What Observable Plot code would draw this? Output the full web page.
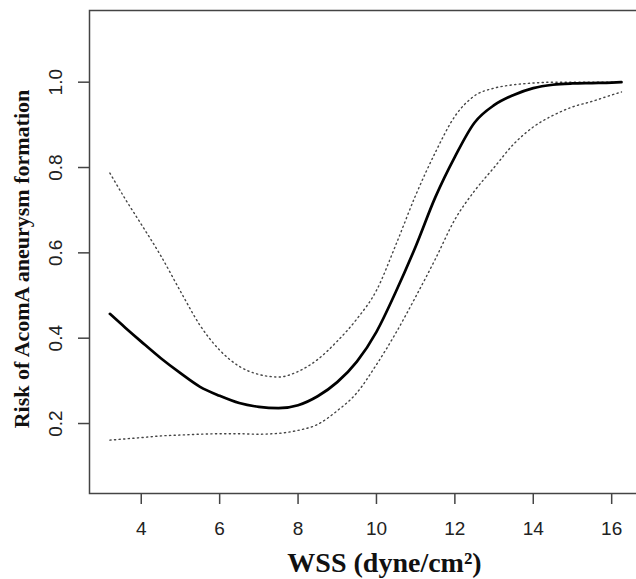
<!DOCTYPE html>
<html>
<head>
<meta charset="utf-8">
<script src="https://cdn.jsdelivr.net/npm/d3@7"></script>
<script src="https://cdn.jsdelivr.net/npm/@observablehq/plot@0.6"></script>
<style>
  html, body { margin: 0; padding: 0; background: #fff; overflow: hidden; width: 636px; height: 579px; }
  #chart { width: 700px; }
</style>
</head>
<body>
<div id="chart"></div>
<script>
const wss   = [3.2, 3.6, 4.0, 4.5, 5.0, 5.5, 6.0, 6.5, 7.0, 7.5, 8.0, 8.5, 9.0, 9.5, 10.0, 10.5, 11.0, 11.5, 12.0, 12.5, 13.0, 13.5, 14.0, 14.5, 15.0, 15.5, 16.0, 16.25];
const risk  = [0.457, 0.424, 0.392, 0.353, 0.318, 0.286, 0.265, 0.248, 0.239, 0.236, 0.243, 0.264, 0.297, 0.345, 0.415, 0.510, 0.615, 0.730, 0.825, 0.905, 0.946, 0.970, 0.986, 0.994, 0.997, 0.998, 0.999, 1.000];
const upper = [0.787, 0.725, 0.667, 0.593, 0.510, 0.430, 0.372, 0.334, 0.315, 0.309, 0.322, 0.350, 0.393, 0.445, 0.512, 0.620, 0.735, 0.835, 0.920, 0.968, 0.986, 0.994, 0.998, 1.000, 1.000, 1.000, 1.000, 1.000];
const lower = [0.161, 0.164, 0.167, 0.171, 0.173, 0.175, 0.176, 0.176, 0.175, 0.177, 0.184, 0.198, 0.230, 0.272, 0.338, 0.413, 0.497, 0.585, 0.678, 0.745, 0.800, 0.855, 0.895, 0.922, 0.942, 0.955, 0.970, 0.977];
const xTicks = [4, 6, 8, 10, 12, 14, 16];
const yTicks = [0.2, 0.4, 0.6, 0.8, 1.0];
const xTitle = "WSS (dyne/cm²)";
const yTitle = "Risk of AcomA aneurysm formation";

const rows = wss.map((x, i) => ({x, risk: risk[i], upper: upper[i], lower: lower[i]}));

const serif = "'Liberation Serif', 'Times New Roman', serif";
const sans = "'Liberation Sans', Arial, sans-serif";

const chart = Plot.plot({
  width: 690,
  height: 579,
  marginLeft: 89,
  marginTop: 10,
  marginBottom: 86,
  marginRight: 11,
  style: {background: "#fff", overflow: "visible"},
  x: {domain: [2.68, 17.73]},
  y: {domain: [0.036, 1.168]},
  marks: [
    Plot.frame({stroke: "#444", strokeWidth: 1.5}),
    Plot.axisX({ticks: xTicks, tickSize: 11, tickFormat: () => "", stroke: "#444", strokeWidth: 1.5, label: null}),
    Plot.axisY({ticks: yTicks, tickSize: 11, tickFormat: () => "", stroke: "#444", strokeWidth: 1.5, label: null}),
    Plot.text(xTicks, {x: d => d, frameAnchor: "bottom", dy: 35, textAnchor: "middle", lineAnchor: "middle", text: d => String(d), fontSize: 19, fontFamily: sans, fill: "#222"}),
    Plot.text(yTicks, {y: d => d, frameAnchor: "left", dx: -34, rotate: -90, textAnchor: "middle", lineAnchor: "middle", text: d => d.toFixed(1), fontSize: 19, fontFamily: sans, fill: "#222"}),
    Plot.text([xTitle], {frameAnchor: "bottom", dy: 70, textAnchor: "middle", lineAnchor: "middle", text: d => d, fontSize: 28, fontWeight: "bold", fontFamily: serif, fill: "#111"}),
    Plot.text([yTitle], {frameAnchor: "left", dx: -68, dy: 7, rotate: -90, textAnchor: "middle", lineAnchor: "middle", text: d => d, fontSize: 22, fontWeight: "bold", fontFamily: serif, fill: "#111"}),
    Plot.line(rows, {x: "x", y: "upper", stroke: "#444", strokeWidth: 1.4, strokeDasharray: "1.2,3.4", curve: "monotone-x"}),
    Plot.line(rows, {x: "x", y: "lower", stroke: "#444", strokeWidth: 1.4, strokeDasharray: "1.2,3.4", curve: "monotone-x"}),
    Plot.line(rows, {x: "x", y: "risk", stroke: "#000", strokeWidth: 2.7, curve: "monotone-x"})
  ]
});
document.getElementById("chart").append(chart);
</script>
</body>
</html>
